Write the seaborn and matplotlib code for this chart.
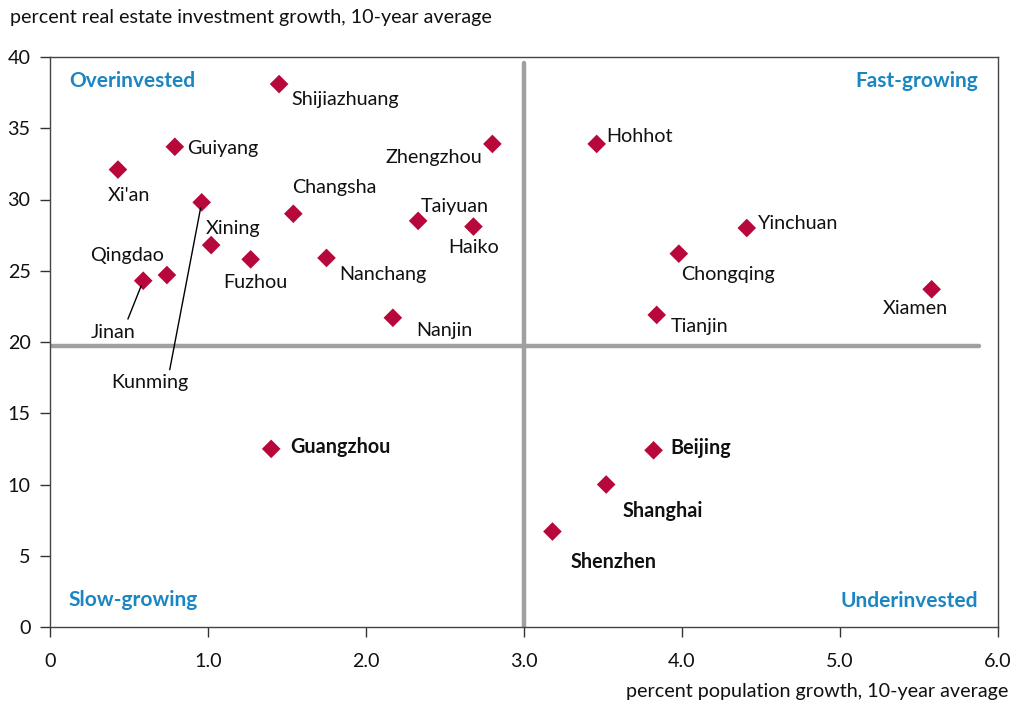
import matplotlib.pyplot as plt
import seaborn as sns
import pandas as pd

# Data
cities = ['Shijiazhuang', 'Guiyang', "Xi'an", 'Kunming', 'Xining', 'Changsha',
          'Fuzhou', 'Qingdao', 'Jinan', 'Nanchang', 'Nanjin', 'Taiyuan', 'Haiko',
          'Zhengzhou', 'Hohhot', 'Yinchuan', 'Chongqing', 'Tianjin', 'Xiamen',
          'Guangzhou', 'Beijing', 'Shanghai', 'Shenzhen']
pop_growth = [1.45, 0.79, 0.43, 0.96, 1.02, 1.54,
              1.27, 0.74, 0.59, 1.75, 2.17, 2.33, 2.68,
              2.80, 3.46, 4.41, 3.98, 3.84, 5.58,
              1.40, 3.82, 3.52, 3.18]
inv_growth = [38.1, 33.7, 32.1, 29.8, 26.8, 29.0,
              25.8, 24.7, 24.3, 25.9, 21.7, 28.5, 28.1,
              33.9, 33.9, 28.0, 26.2, 21.9, 23.7,
              12.5, 12.4, 10.0, 6.7]
# label offsets in points (dx, dy), alignment, bold
label_dx = [9, 9, 8, 0, -4, -1, -20, -2, 0, 9, 17, 2, -18,
            -7, 7, 8, 2, 10, -12, 14, 12, 12, 13]
label_dy = [-11, -1, -19, 0, 12, 19, -17, 14, 0, -12, -9, 10, -15,
            -10, 5, 3, -15, -8, -14, 1, 2, -19, -22]
label_ha = ['left', 'left', 'center', 'left', 'left', 'left', 'left', 'right', 'left',
            'left', 'left', 'left', 'left', 'right', 'left', 'left', 'left', 'left',
            'center', 'left', 'left', 'left', 'left']
bold_cities = ['Guangzhou', 'Beijing', 'Shanghai', 'Shenzhen']

x_split = 3.0
y_split = 19.7

df = pd.DataFrame({'city': cities, 'pop': pop_growth, 'inv': inv_growth})

sns.set_style('white')
plt.rcParams['font.family'] = ['Lato', 'DejaVu Sans']

fig = plt.figure(figsize=(10.12, 7.06), dpi=100)
ax = fig.add_axes([50 / 1012, 1 - 627 / 706, 948 / 1012, 570 / 706])

red = '#b8083b'
blue = '#1a86c2'
grey = '#a0a0a0'
fs = 14.2

ax.axhline(y_split, xmin=0, xmax=0.98, color=grey, lw=3.2, zorder=1)
ax.axvline(x_split, ymin=0, ymax=0.99, color=grey, lw=3.2, zorder=1)

sns.scatterplot(data=df, x='pop', y='inv', marker='D', s=90, color=red,
                edgecolor='none', ax=ax, zorder=3)

for i, c in enumerate(cities):
    if c in ('Jinan', 'Kunming'):
        continue
    ax.annotate(c, (pop_growth[i], inv_growth[i]), xytext=(label_dx[i], label_dy[i]),
                textcoords='offset points', ha=label_ha[i], va='center',
                fontsize=fs, fontweight='bold' if c in bold_cities else 'normal',
                color='#111111')

# labels with leader lines
j = cities.index('Jinan')
ax.annotate('Jinan', (pop_growth[j], inv_growth[j]), xytext=(-22, -37),
            textcoords='offset points', ha='center', va='center', fontsize=fs,
            color='#111111',
            arrowprops=dict(arrowstyle='-', color='black', lw=1, shrinkA=1, shrinkB=4,
                            relpos=(0.8, 1.0)))
k = cities.index('Kunming')
ax.annotate('Kunming', (pop_growth[k], inv_growth[k]), xytext=(-37, -130),
            textcoords='offset points', ha='center', va='center', fontsize=fs,
            color='#111111',
            arrowprops=dict(arrowstyle='-', color='black', lw=1, shrinkA=1, shrinkB=4,
                            relpos=(0.74, 1.0)))

# quadrant names
qkw = dict(transform=ax.transAxes, fontsize=15, fontweight='bold', color=blue, va='center')
ax.text(0.02, 0.958, 'Overinvested', ha='left', **qkw)
ax.text(0.979, 0.958, 'Fast-growing', ha='right', **qkw)
ax.text(0.02, 0.047, 'Slow-growing', ha='left', **qkw)
ax.text(0.979, 0.045, 'Underinvested', ha='right', **qkw)

ax.set_xlim(0, 6)
ax.set_ylim(0, 40)
ax.set_xticks([0, 1, 2, 3, 4, 5, 6])
ax.set_xticklabels(['0', '1.0', '2.0', '3.0', '4.0', '5.0', '6.0'])
ax.set_yticks(range(0, 41, 5))
ax.tick_params(axis='both', direction='out', length=7, width=1, color='#333333',
               labelsize=fs, labelcolor='#111111', bottom=True, left=True)
ax.tick_params(axis='x', pad=12)
ax.tick_params(axis='y', pad=7)
for s in ax.spines.values():
    s.set_color('#444444')
    s.set_linewidth(1)
ax.set_xlabel('')
ax.set_ylabel('')

fig.text(10 / 1012, 1 - 18 / 706, 'percent real estate investment growth, 10-year average',
         ha='left', va='center', fontsize=fs, color='#111111')
fig.text(1008 / 1012, 1 - 692 / 706, 'percent population growth, 10-year average',
         ha='right', va='center', fontsize=fs, color='#111111')

fig.savefig('out.png', dpi=100)
